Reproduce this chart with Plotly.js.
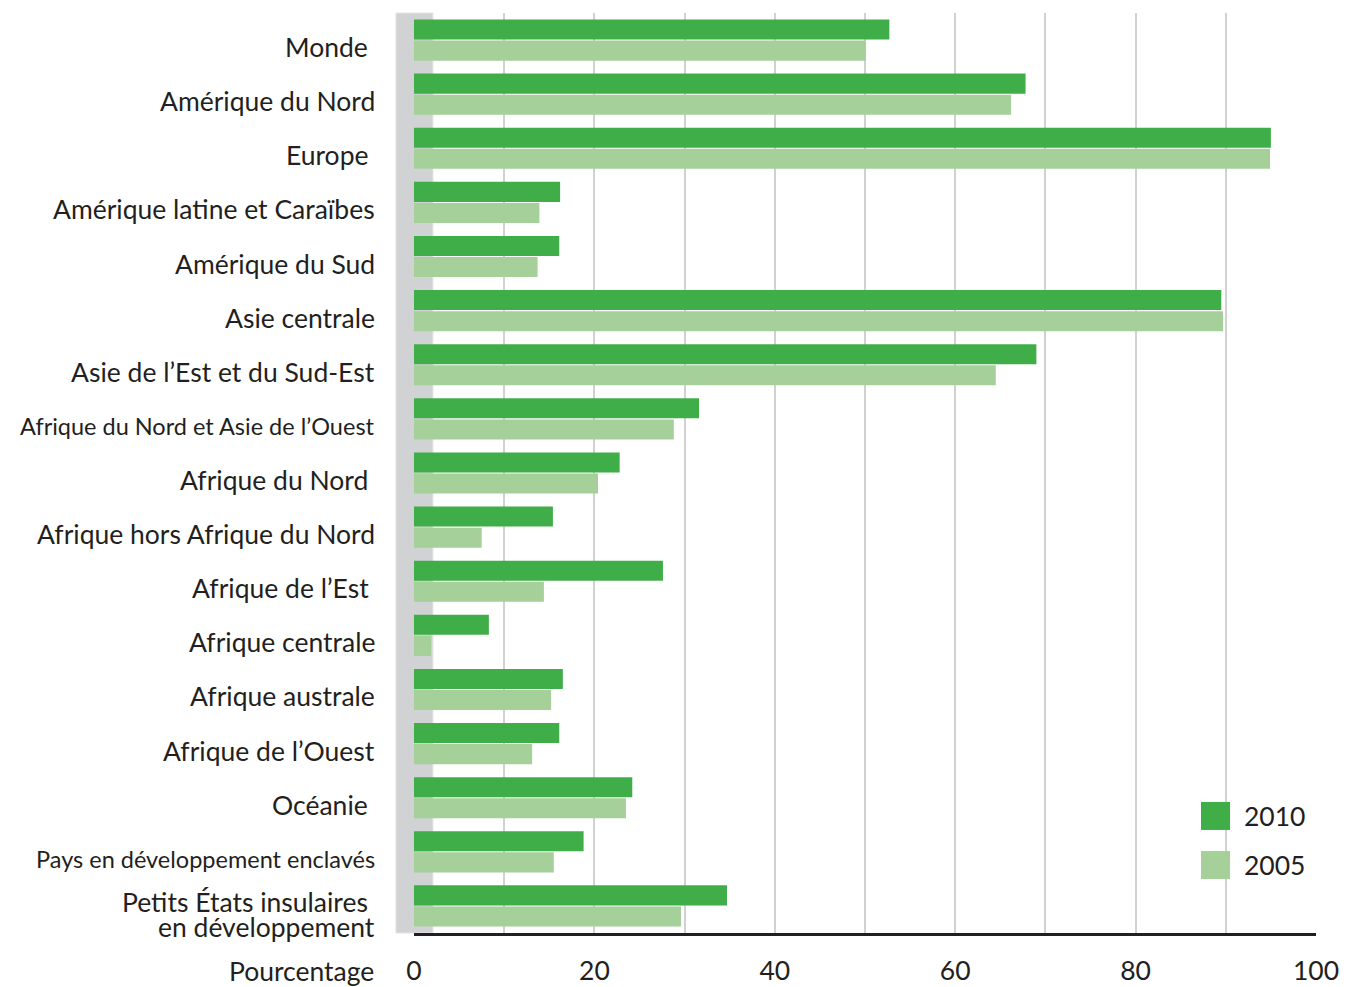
<!DOCTYPE html>
<html><head><meta charset="utf-8">
<script src="https://cdn.plot.ly/plotly-3.0.1.min.js"></script>
<style>html,body{margin:0;padding:0;background:#fff;}</style>
</head><body>
<div id="chart" style="width:1355px;height:987px;"></div>
<script>
const categories = [
  "Monde", "Amérique du Nord", "Europe", "Amérique latine et Caraïbes", "Amérique du Sud",
  "Asie centrale", "Asie de l’Est et du Sud-Est", "Afrique du Nord et Asie de l’Ouest",
  "Afrique du Nord", "Afrique hors Afrique du Nord", "Afrique de l’Est", "Afrique centrale",
  "Afrique australe", "Afrique de l’Ouest", "Océanie", "Pays en développement enclavés",
  "Petits États insulaires en développement"
];
const tickLabels = [
  "Monde\u00A0", "Amérique du Nord", "Europe\u00A0", "Amérique latine et Caraïbes", "Amérique du Sud",
  "Asie centrale", "Asie de l’Est et du Sud-Est",
  "Afrique du Nord et Asie de l’Ouest",
  "Afrique du Nord\u00A0", "Afrique hors Afrique du Nord", "Afrique de l’Est\u00A0", "Afrique centrale",
  "Afrique australe", "Afrique de l’Ouest", "Océanie\u00A0",
  "Pays en développement enclavés",
  "Petits États insulaires\u00A0<br>en développement"
];
const smallLabels = ["Afrique du Nord et Asie de l’Ouest", "Pays en développement enclavés"];
const seriesNames = ["2010", "2005"];
const values2010 = [52.7, 67.8, 95.0, 16.2, 16.1, 89.5, 69.0, 31.6, 22.8, 15.4, 27.6, 8.3, 16.5, 16.1, 24.2, 18.8, 34.7];
const values2005 = [50.1, 66.2, 94.9, 13.9, 13.7, 89.7, 64.5, 28.8, 20.4, 7.5, 14.4, 1.9, 15.2, 13.1, 23.5, 15.5, 29.6];
const xTicks = [0, 20, 40, 60, 80, 100];
const colors = ["#3fae49", "#a5d09a"];

const txt = "#231f20";
const font = "Lato, 'Open Sans', sans-serif";

const traces = [
  {type: "bar", orientation: "h", name: seriesNames[0], y: categories, x: values2010,
   marker: {color: colors[0]}, hoverinfo: "x+y"},
  {type: "bar", orientation: "h", name: seriesNames[1], y: categories, x: values2005,
   marker: {color: colors[1]}, hoverinfo: "x+y"}
];

// category labels as annotations (allows per-label size and tight line spacing)
const labelAnns = [];
categories.forEach((c, i) => {
  const lines = tickLabels[i].split("<br>");
  const small = smallLabels.includes(c);
  const lineH = 25;
  lines.forEach((ln, j) => {
    const offset = lines.length === 1 ? -7 : (4 - j * lineH);
    labelAnns.push({
      text: ln, xref: "paper", yref: "y", x: 0, y: c,
      xanchor: "right", yanchor: "middle", xshift: -38, yshift: offset,
      showarrow: false, borderpad: 0,
      font: {size: small ? 23.5 : 26.5, color: txt, family: font}
    });
  });
});

const layout = {
  width: 1355, height: 987,
  margin: {l: 414, r: 39, t: 13, b: 54, pad: 0},
  paper_bgcolor: "#fff", plot_bgcolor: "#fff",
  font: {family: font, color: txt, size: 26},
  showlegend: false,
  barmode: "group", bargap: 0.22, bargroupgap: 0.05,
  xaxis: {
    range: [0, 100], tickvals: xTicks, ticktext: xTicks.map(String),
    showgrid: true, gridcolor: "#d1d1d1", gridwidth: 2,
    minor: {dtick: 10, tick0: 0, showgrid: true, gridcolor: "#d1d1d1", gridwidth: 2},
    showline: true, linecolor: txt, linewidth: 3,
    ticks: "", ticklabelstandoff: 12, zeroline: false,
    tickfont: {size: 26.5, color: txt, family: font}, fixedrange: true
  },
  yaxis: {
    type: "category", autorange: "reversed",
    showticklabels: false,
    showgrid: false, zeroline: false, showline: false, ticks: "",
    fixedrange: true
  },
  shapes: [
    {type: "rect", xref: "paper", yref: "paper", x0: -0.02, x1: 0.021, y0: 0, y1: 1,
     fillcolor: "#d1d2d4", line: {color: "#e4e4e6", width: 1}, layer: "below"},
    {type: "rect", xref: "paper", yref: "paper", x0: 0.8725, x1: 0.9047, y0: 0.112, y1: 0.1424,
     fillcolor: colors[0], line: {width: 0}},
    {type: "rect", xref: "paper", yref: "paper", x0: 0.8725, x1: 0.9047, y0: 0.0587, y1: 0.0891,
     fillcolor: colors[1], line: {width: 0}}
  ],
  annotations: labelAnns.concat([
    {text: "Pourcentage", xref: "paper", yref: "paper", x: 0, y: 0, xanchor: "right", yanchor: "top",
     xshift: -38, yshift: -20, showarrow: false, font: {size: 26.5, color: txt, family: font}},
    {text: seriesNames[0], xref: "paper", yref: "paper", x: 0.9182, y: 0.1272, xanchor: "left", yanchor: "middle",
     showarrow: false, font: {size: 26.5, color: txt, family: font}},
    {text: seriesNames[1], xref: "paper", yref: "paper", x: 0.9182, y: 0.0739, xanchor: "left", yanchor: "middle",
     showarrow: false, font: {size: 26.5, color: txt, family: font}}
  ])
};

Plotly.newPlot("chart", traces, layout, {displayModeBar: false, staticPlot: true});
</script>
</body></html>
